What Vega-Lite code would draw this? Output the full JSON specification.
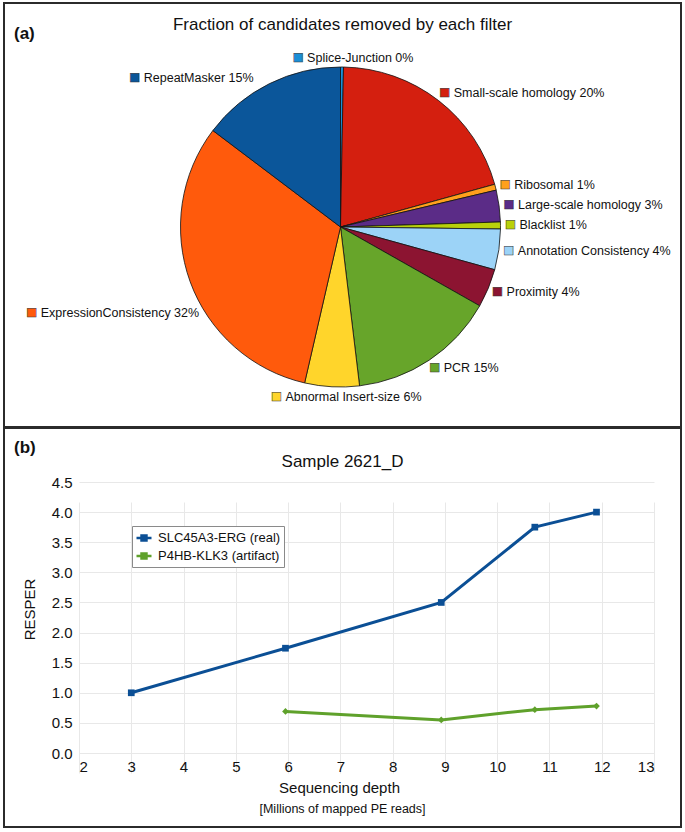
{
  "$schema": "https://vega.github.io/schema/vega-lite/v6.json",
  "padding": {"left": 3, "top": 2, "right": 0, "bottom": 0},
  "background": "white",
  "spacing": -4,
  "resolve": {"scale": {"color": "independent"}, "legend": {"color": "independent"}},
  "config": {
    "font": "Liberation Sans",
    "view": {"stroke": "#2b2b2b", "strokeWidth": 2},
    "title": {"fontWeight": "normal", "color": "#111", "font": "Liberation Sans"},
    "axis": {"labelFont": "Liberation Sans", "titleFont": "Liberation Sans"},
    "legend": {"labelFont": "Liberation Sans"},
    "concat": {"spacing": 0}
  },
  "title": {"text": "(a)", "anchor": "start", "fontSize": 17, "fontWeight": "bold", "baseline": "middle", "offset": -49, "dx": 11},
  "datasets": {
    "filters": [
      {"filter": "Splice-Junction", "pct": 0.3, "label": "Splice-Junction 0%"},
      {"filter": "Small-scale homology", "pct": 20.4, "label": "Small-scale homology 20%"},
      {"filter": "Ribosomal", "pct": 0.6, "label": "Ribosomal 1%"},
      {"filter": "Large-scale homology", "pct": 3.2, "label": "Large-scale homology 3%"},
      {"filter": "Blacklist", "pct": 0.7, "label": "Blacklist 1%"},
      {"filter": "Annotation Consistency", "pct": 4.1, "label": "Annotation Consistency 4%"},
      {"filter": "Proximity", "pct": 3.9, "label": "Proximity 4%"},
      {"filter": "PCR", "pct": 14.9, "label": "PCR 15%"},
      {"filter": "Abnormal Insert-size", "pct": 5.5, "label": "Abnormal Insert-size 6%"},
      {"filter": "ExpressionConsistency", "pct": 31.7, "label": "ExpressionConsistency 32%"},
      {"filter": "RepeatMasker", "pct": 14.7, "label": "RepeatMasker 15%"}
    ],
    "depth": [
      {"fusion": "SLC45A3-ERG (real)", "depth": 3.0, "resper": 1.0},
      {"fusion": "SLC45A3-ERG (real)", "depth": 5.95, "resper": 1.74},
      {"fusion": "SLC45A3-ERG (real)", "depth": 8.93, "resper": 2.5},
      {"fusion": "SLC45A3-ERG (real)", "depth": 10.72, "resper": 3.75},
      {"fusion": "SLC45A3-ERG (real)", "depth": 11.9, "resper": 4.0},
      {"fusion": "P4HB-KLK3 (artifact)", "depth": 5.95, "resper": 0.69},
      {"fusion": "P4HB-KLK3 (artifact)", "depth": 8.93, "resper": 0.55},
      {"fusion": "P4HB-KLK3 (artifact)", "depth": 10.72, "resper": 0.72},
      {"fusion": "P4HB-KLK3 (artifact)", "depth": 11.9, "resper": 0.78}
    ]
  },
  "vconcat": [
    {
      "width": 677,
      "height": 424,
      "view": {"stroke": "#2b2b2b", "strokeWidth": 2},
      "title": {"text": "Fraction of candidates removed by each filter", "fontSize": 17, "baseline": "middle", "offset": -39, "anchor": "middle"},
      "data": {"name": "filters"},
      "transform": [
        {"stack": "pct", "groupby": [], "as": ["a0", "a1"]},
        {"calculate": "(datum.a0 + datum.a1) / 2", "as": "amid"}
      ],
      "encoding": {
        "theta": {"field": "amid", "type": "quantitative", "scale": {"domain": [0, 100]}},
        "color": {
          "field": "filter", "type": "nominal", "legend": null,
          "scale": {
            "domain": ["Splice-Junction", "Small-scale homology", "Ribosomal", "Large-scale homology", "Blacklist", "Annotation Consistency", "Proximity", "PCR", "Abnormal Insert-size", "ExpressionConsistency", "RepeatMasker"],
            "range": ["#1b8fd6", "#d41f0f", "#ffa01c", "#5b2c87", "#b9d10a", "#9cd3f7", "#8c1431", "#67a52a", "#ffd52b", "#ff5a0c", "#0b569a"]
          }
        }
      },
      "layer": [
        {
          "mark": {"type": "arc", "outerRadius": 160, "stroke": "#111", "strokeWidth": 0.8, "xOffset": -2, "yOffset": 12},
          "encoding": {
            "theta": {"field": "a0", "type": "quantitative", "scale": {"domain": [0, 100]}},
            "theta2": {"field": "a1"}
          }
        },
        {
          "transform": [{"filter": {"field": "filter", "oneOf": ["Small-scale homology", "Ribosomal", "Large-scale homology", "Blacklist", "Annotation Consistency", "Proximity", "PCR"]}}],
          "mark": {"type": "text", "text": "■", "radius": 170, "fontSize": 18, "align": "center", "baseline": "middle", "stroke": "#333", "strokeWidth": 0.5, "xOffset": -2, "yOffset": 12}
        },
        {
          "transform": [{"filter": {"field": "filter", "oneOf": ["Small-scale homology", "Ribosomal", "Large-scale homology", "Blacklist", "Annotation Consistency", "Proximity", "PCR"]}}],
          "mark": {"type": "text", "radius": 170, "fontSize": 12.5, "align": "left", "baseline": "middle", "dx": 9, "xOffset": -2, "yOffset": 12, "color": "#111"},
          "encoding": {"text": {"field": "label"}, "color": {"value": "#111"}}
        },
        {
          "transform": [{"filter": {"field": "filter", "equal": "Splice-Junction"}}],
          "mark": {"type": "text", "text": "■", "radius": 170, "fontSize": 18, "align": "center", "baseline": "middle", "dx": -44, "dy": 1, "stroke": "#333", "strokeWidth": 0.5, "xOffset": -2, "yOffset": 12}
        },
        {
          "transform": [{"filter": {"field": "filter", "equal": "Splice-Junction"}}],
          "mark": {"type": "text", "radius": 170, "fontSize": 12.5, "align": "left", "baseline": "middle", "dx": -35, "dy": 1, "xOffset": -2, "yOffset": 12},
          "encoding": {"text": {"field": "label"}, "color": {"value": "#111"}}
        },
        {
          "transform": [{"filter": {"field": "filter", "equal": "Abnormal Insert-size"}}],
          "mark": {"type": "text", "text": "■", "radius": 170, "fontSize": 18, "align": "center", "baseline": "middle", "dx": -55, "stroke": "#333", "strokeWidth": 0.5, "xOffset": -2, "yOffset": 12}
        },
        {
          "transform": [{"filter": {"field": "filter", "equal": "Abnormal Insert-size"}}],
          "mark": {"type": "text", "radius": 170, "fontSize": 12.5, "align": "left", "baseline": "middle", "dx": -46, "xOffset": -2, "yOffset": 12},
          "encoding": {"text": {"field": "label"}, "color": {"value": "#111"}}
        },
        {
          "transform": [{"filter": {"field": "filter", "equal": "RepeatMasker"}}],
          "mark": {"type": "text", "text": "■", "radius": 170, "fontSize": 18, "align": "center", "baseline": "middle", "dx": -130, "dy": 3, "stroke": "#333", "strokeWidth": 0.5, "xOffset": -2, "yOffset": 12}
        },
        {
          "transform": [{"filter": {"field": "filter", "equal": "RepeatMasker"}}],
          "mark": {"type": "text", "radius": 170, "fontSize": 12.5, "align": "left", "baseline": "middle", "dx": -121, "dy": 3, "xOffset": -2, "yOffset": 12},
          "encoding": {"text": {"field": "label"}, "color": {"value": "#111"}}
        },
        {
          "transform": [{"filter": {"field": "filter", "equal": "ExpressionConsistency"}}],
          "mark": {"type": "text", "text": "■", "radius": 170, "fontSize": 18, "align": "center", "baseline": "middle", "dx": -149, "dy": 28, "stroke": "#333", "strokeWidth": 0.5, "xOffset": -2, "yOffset": 12}
        },
        {
          "transform": [{"filter": {"field": "filter", "equal": "ExpressionConsistency"}}],
          "mark": {"type": "text", "radius": 170, "fontSize": 12.5, "align": "left", "baseline": "middle", "dx": -140, "dy": 28, "xOffset": -2, "yOffset": 12},
          "encoding": {"text": {"field": "label"}, "color": {"value": "#111"}}
        }
      ]
    },
    {
      "title": {"text": "(b)", "anchor": "start", "fontSize": 17, "fontWeight": "bold", "baseline": "middle", "offset": -38, "dx": 11},
      "vconcat": [
        {
          "title": {"text": "[Millions of mapped PE reads]", "orient": "bottom", "anchor": "middle", "fontSize": 12.5, "baseline": "middle", "offset": -19},
          "vconcat": [
            {
              "width": 677,
              "height": 399,
              "title": {"text": "Sample 2621_D", "fontSize": 17, "baseline": "middle", "offset": -51, "anchor": "middle"},
              "data": {"name": "depth"},
              "encoding": {
                "x": {
                  "field": "depth", "type": "quantitative",
                  "scale": {"domain": [2, 13], "range": [75, 650], "nice": false, "zero": false},
                  "axis": {"values": [2, 3, 4, 5, 6, 7, 8, 9, 10, 11, 12, 13], "format": "d", "offset": -74, "ticks": false, "domain": false, "gridColor": "#e8e8e8", "labelFontSize": 15, "labelColor": "#111", "labelPadding": 6, "title": "Sequencing depth", "titleFontSize": 15, "titleFontWeight": "normal", "titleColor": "#111", "titlePadding": 6, "titleX": 335}
                },
                "y": {
                  "field": "resper", "type": "quantitative",
                  "scale": {"domain": [0, 4.5], "range": [325, 54], "nice": false},
                  "axis": {"values": [0, 0.5, 1, 1.5, 2, 2.5, 3, 3.5, 4, 4.5], "format": ".1f", "offset": -75, "ticks": false, "domain": false, "gridColor": "#e8e8e8", "labelFontSize": 15, "labelColor": "#111", "labelPadding": 7, "title": "RESPER", "titleFontSize": 15, "titleFontWeight": "normal", "titleColor": "#111", "titlePadding": 14, "titleY": 181}
                },
                "color": {
                  "field": "fusion", "type": "nominal",
                  "scale": {"domain": ["SLC45A3-ERG (real)", "P4HB-KLK3 (artifact)"], "range": ["#0b4f95", "#5fa12b"]},
                  "legend": {"orient": "none", "legendX": 128, "legendY": 98, "title": null, "strokeColor": "#8a8a8a", "fillColor": "#ffffff", "padding": 3, "labelFontSize": 13, "labelColor": "#111", "symbolType": "M-1,0H1M-0.33,-0.33H0.33V0.33H-0.33Z", "symbolSize": 225, "symbolStrokeWidth": 2.5, "rowPadding": 1, "labelOffset": 5, "labelLimit": 0}
                }
              },
              "layer": [
                {"mark": {"type": "line", "strokeWidth": 3}, "encoding": {}},
                {
                  "mark": {"type": "point", "filled": true, "opacity": 1, "size": 45},
                  "encoding": {
                    "shape": {"field": "fusion", "type": "nominal", "scale": {"domain": ["SLC45A3-ERG (real)", "P4HB-KLK3 (artifact)"], "range": ["square", "diamond"]}, "legend": null}
                  }
                }
              ]
            }
          ]
        }
      ]
    }
  ]
}
